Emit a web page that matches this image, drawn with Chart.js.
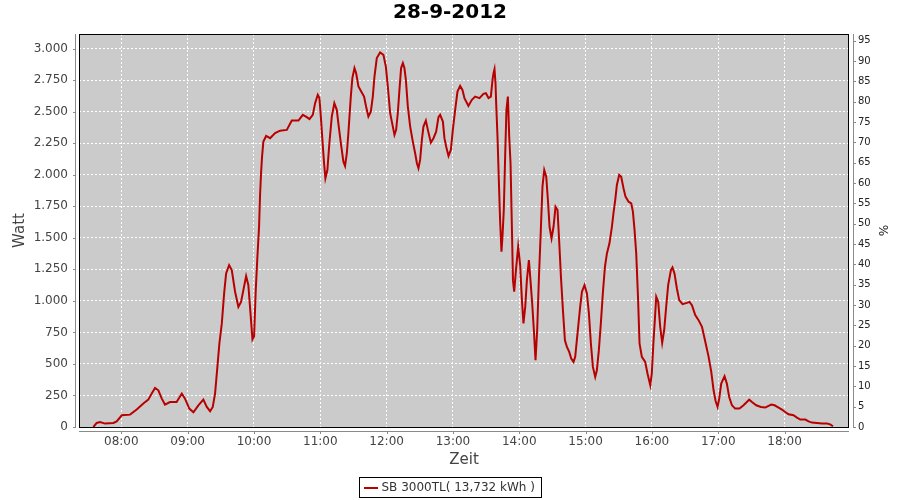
<!DOCTYPE html>
<html>
<head>
<meta charset="utf-8">
<script src="https://cdn.jsdelivr.net/npm/chart.js@4/dist/chart.umd.min.js"></script>
<style>
html,body{margin:0;padding:0;background:#ffffff;}
canvas{display:block;}
</style>
</head>
<body>
<canvas id="c" width="900" height="500"></canvas>
<script>
// ---------- data ----------
const chartTitle = '28-9-2012';
const seriesLabel = 'SB 3000TL( 13,732 kWh )';
const xAxisTitle = 'Zeit';
const leftAxisTitle = 'Watt';
const rightAxisTitle = '%';

const hourTicks = ['08:00','09:00','10:00','11:00','12:00','13:00','14:00','15:00','16:00','17:00','18:00'];
const wattTicks = [0,250,500,750,1000,1250,1500,1750,2000,2250,2500,2750,3000];
const percentTicks = [0,5,10,15,20,25,30,35,40,45,50,55,60,65,70,75,80,85,90,95];

// time of each sample, minutes after midnight
const timeMinutes = [
454.7,457.7,460.7,465.3,472.8,475.8,480.4,487.9,493.9,499.9,504.4,507.5,510.5,513.5,516.6,519.5,524,530,534.7,537.6,
541.5,545.2,549.7,554.2,557.3,560.3,562.7,564.8,566.9,568.7,570.9,573,574.8,577.5,579.9,582.9,585.9,588.3,590.4,592.9,
594.9,597.1,598.6,600.1,601.6,603.1,604.6,605.5,606.4,607.3,608.5,611,614.6,619.1,623.6,629.7,634.2,640.2,644.2,647.8,
650.2,653.2,655.3,657.7,659.2,660.7,661.9,663.4,664.6,666.4,668.2,670.4,672.7,674.9,676.7,678.8,680.9,682.4,684,685.4,
687.6,689,690.9,692.4,694.5,697.5,699.6,701.4,703.5,705.7,707.5,709,711.1,714.1,717.1,719.3,721.1,723.2,725.3,727.1,
728.6,730.1,731.6,733.1,734.7,736.1,737.4,739.2,741.3,743.7,745.8,747.4,748.8,750.3,751.9,753.3,755.5,757.3,760,762.4,
764.8,766.9,768.4,770.9,772.3,773.9,776,778.1,779.9,782,784.1,786.5,788.6,790.4,794,797.1,800.1,804,807.6,809.8,
812.2,814.3,815.8,816.7,817.6,818.5,819.1,820.3,821.6,822.7,823.9,824.8,826,827.3,828.4,829.7,830.9,832.1,833,834.3,
835.4,837,839,840.8,842.4,843.8,845.4,846.9,848.7,849.9,851.7,853.2,854.7,856.2,857.8,859.5,861,862.6,864.4,865.9,
867.4,869.2,871,872.8,874.6,876.2,877.7,879.5,881.3,883.1,885.2,887,889.1,890.6,892.1,893.6,895.1,896.7,899,901.2,
903,904.8,906.6,908.7,910.2,912,913.8,915.6,917.5,919.3,921.6,923.8,925.2,926.8,928.3,930.4,932.2,934.3,936.1,938.9,
941.3,942.8,944.3,945.8,947.4,948.8,950.9,953.9,956,958.5,959.9,961.4,963,963.9,965.7,967.5,969.3,971.1,972.9,974.7,
977.2,978.6,980.4,982.6,984.7,987.7,991.6,994,996.2,999.2,1002.2,1005.3,1008.3,1011.3,1013.7,1015.8,1017.6,1019.4,1020.9,1022.7,
1025.7,1027.8,1029.9,1032.4,1035.3,1039.2,1042.9,1045.9,1048,1050.5,1054.4,1058.6,1062.6,1064.6,1068,1071,1074.6,1077.7,1080.6,1083.6,
1088.1,1091.2,1094.2,1098.8,1101.7,1104.8,1109.3,1113.8,1118.4,1121.3,1123.8
];

// power output in watt
const wattValues = [
0,32,40,27,32,45,93,98,138,186,217,265,310,291,225,178,198,198,265,225,
146,117,172,217,159,125,159,265,476,662,821,1059,1217,1283,1244,1072,952,992,1085,1196,
1125,873,694,720,1085,1349,1587,1839,2011,2143,2262,2307,2289,2329,2349,2355,2429,2429,2474,2456,
2440,2474,2567,2633,2607,2434,2276,2091,1971,2037,2249,2461,2567,2514,2381,2236,2103,2069,2170,2329,
2619,2765,2845,2805,2699,2651,2619,2540,2461,2500,2619,2778,2924,2968,2950,2857,2699,2487,2395,2315,
2355,2487,2672,2845,2884,2845,2752,2540,2381,2262,2170,2091,2051,2117,2276,2381,2429,2355,2254,2289,
2341,2456,2474,2421,2289,2222,2149,2196,2355,2514,2659,2704,2672,2607,2545,2593,2619,2607,2641,2646,
2607,2619,2752,2805,2837,2726,2567,2302,1932,1627,1389,1508,1720,2170,2514,2619,2302,2091,1720,1164,
1072,1244,1429,1283,1006,821,952,1164,1323,1190,979,767,529,767,1190,1561,1905,2037,1984,1799,
1587,1495,1587,1746,1720,1456,1190,926,688,635,595,543,516,556,688,821,952,1072,1125,1059,
900,662,476,397,450,609,821,1059,1270,1376,1456,1587,1694,1799,1918,1998,1984,1892,1826,1786,
1773,1707,1561,1376,1032,662,556,516,424,331,424,675,900,1032,992,794,667,767,952,1125,
1244,1265,1217,1098,1006,974,984,992,966,887,847,794,675,556,437,291,206,159,225,344,
402,344,238,172,146,146,172,198,217,198,172,159,154,164,178,172,154,138,119,101,
93,75,59,59,45,35,32,27,27,21,6
];

// ---------- helpers ----------
function toMin(s){ const p = s.split(':'); return (+p[0]) * 60 + (+p[1]); }
function fmtTime(v){
  const h = Math.floor(v / 60), m = Math.round(v - h * 60);
  return String(h).padStart(2,'0') + ':' + String(m).padStart(2,'0');
}
function fmtDe(v){ return String(v).replace(/\B(?=(\d{3})+(?!\d))/g, '.'); }

Chart.defaults.font.family = "'DejaVu Sans', 'Liberation Sans', sans-serif";

// JFreeChart-like plot background, outline, offset axis lines and legend box
const plotDecor = {
  id: 'plotDecor',
  beforeDraw(chart){
    const {ctx, chartArea: a} = chart;
    ctx.save();
    ctx.fillStyle = '#cbcbcb';
    ctx.fillRect(a.left, a.top, a.right - a.left, a.bottom - a.top);
    ctx.restore();
  },
  afterDraw(chart){
    const {ctx, chartArea: a, scales} = chart;
    ctx.save();
    // plot outline
    ctx.strokeStyle = '#000000';
    ctx.lineWidth = 1;
    ctx.strokeRect(a.left + 0.5, a.top + 0.5, a.right - a.left - 1, a.bottom - a.top);
    // axis lines (offset from plot)
    ctx.strokeStyle = '#8a8a8a';
    const lx = a.left - 3.5, rx = a.right + 4.5, by = a.bottom + 4.5;
    ctx.beginPath();
    ctx.moveTo(lx, a.top); ctx.lineTo(lx, a.bottom + 1);
    ctx.moveTo(rx, a.top); ctx.lineTo(rx, a.bottom + 1);
    ctx.moveTo(a.left, by); ctx.lineTo(a.right, by);
    // tick marks
    scales.y.ticks.forEach(t => {
      const y = Math.round(scales.y.getPixelForValue(t.value)) + 0.5;
      ctx.moveTo(lx - 2.5, y); ctx.lineTo(lx, y);
    });
    scales.y2.ticks.forEach(t => {
      const y = Math.round(scales.y2.getPixelForValue(t.value)) + 0.5;
      ctx.moveTo(rx, y); ctx.lineTo(rx + 2.5, y);
    });
    scales.x.ticks.forEach(t => {
      const x = Math.round(scales.x.getPixelForValue(t.value)) + 0.5;
      ctx.moveTo(x, by); ctx.lineTo(x, by + 2.5);
    });
    ctx.stroke();

    // legend box
    const ds = chart.data.datasets[0];
    ctx.font = "12px 'DejaVu Sans', sans-serif";
    const tw = ctx.measureText(ds.label).width;
    const boxW = Math.round(tw + 29), boxH = 20;
    const bx = Math.round(450 - boxW / 2) + 0.5, byy = 477.5;
    ctx.fillStyle = '#ffffff';
    ctx.fillRect(bx, byy, boxW, boxH);
    ctx.strokeStyle = '#000000';
    ctx.strokeRect(bx, byy, boxW, boxH);
    ctx.strokeStyle = ds.borderColor;
    ctx.lineWidth = 2;
    ctx.beginPath();
    ctx.moveTo(bx + 4.5, byy + 10.5); ctx.lineTo(bx + 18.5, byy + 10.5);
    ctx.stroke();
    ctx.fillStyle = '#333333';
    ctx.textBaseline = 'middle';
    ctx.textAlign = 'left';
    ctx.fillText(ds.label, bx + 22, byy + 10.5);
    ctx.restore();
  }
};

const gridOpts = { color: '#ffffff', lineWidth: 1, drawTicks: false };

new Chart(document.getElementById('c'), {
  type: 'line',
  data: {
    datasets: [{
      label: seriesLabel,
      data: timeMinutes.map((t, i) => ({ x: t, y: wattValues[i] })),
      borderColor: '#b80000',
      borderWidth: 2,
      pointRadius: 0,
      tension: 0,
      fill: false,
      yAxisID: 'y'
    }]
  },
  options: {
    responsive: false,
    animation: false,
    devicePixelRatio: 1,
    layout: { padding: 0 },
    plugins: {
      legend: { display: false },
      tooltip: { enabled: false },
      title: {
        display: true,
        text: chartTitle,
        color: '#000000',
        font: { size: 20, weight: 'bold' },
        padding: { top: 1, bottom: 9 }
      }
    },
    scales: {
      x: {
        type: 'linear',
        position: 'bottom',
        min: 441.7,
        max: 1138.3,
        afterBuildTicks(s){ s.ticks = hourTicks.map(h => ({ value: toMin(h) })); },
        afterFit(s){ s.height = 73; },
        grid: gridOpts,
        border: { display: false, dash: [2, 2] },
        ticks: { padding: 8, color: '#444444', font: { size: 12 }, maxRotation: 0, autoSkip: false,
                 callback: v => fmtTime(v) },
        title: { display: true, text: xAxisTitle, color: '#444444', font: { size: 15 },
                 padding: { top: 0, bottom: 31 } }
      },
      y: {
        type: 'linear',
        position: 'left',
        min: 0,
        max: 3115,
        afterBuildTicks(s){ s.ticks = wattTicks.map(v => ({ value: v })); },
        afterFit(s){ s.width = 79; },
        grid: gridOpts,
        border: { display: false, dash: [2, 2] },
        ticks: { padding: 11, color: '#444444', font: { size: 12 }, callback: v => fmtDe(v) },
        title: { display: true, text: leftAxisTitle, color: '#444444', font: { size: 15 },
                 padding: { top: 11, bottom: 0 } }
      },
      y2: {
        type: 'linear',
        position: 'right',
        min: 0,
        max: 96.65,
        afterBuildTicks(s){ s.ticks = percentTicks.map(v => ({ value: v })); },
        afterFit(s){ s.width = 51; },
        grid: { display: false, drawTicks: false },
        border: { display: false },
        ticks: { padding: 9, color: '#222222', font: { size: 10 }, callback: v => String(v) },
        title: { display: true, text: rightAxisTitle, color: '#222222', font: { size: 12 },
                 padding: { top: 11, bottom: 0 } }
      }
    }
  },
  plugins: [plotDecor]
});
</script>
</body>
</html>
